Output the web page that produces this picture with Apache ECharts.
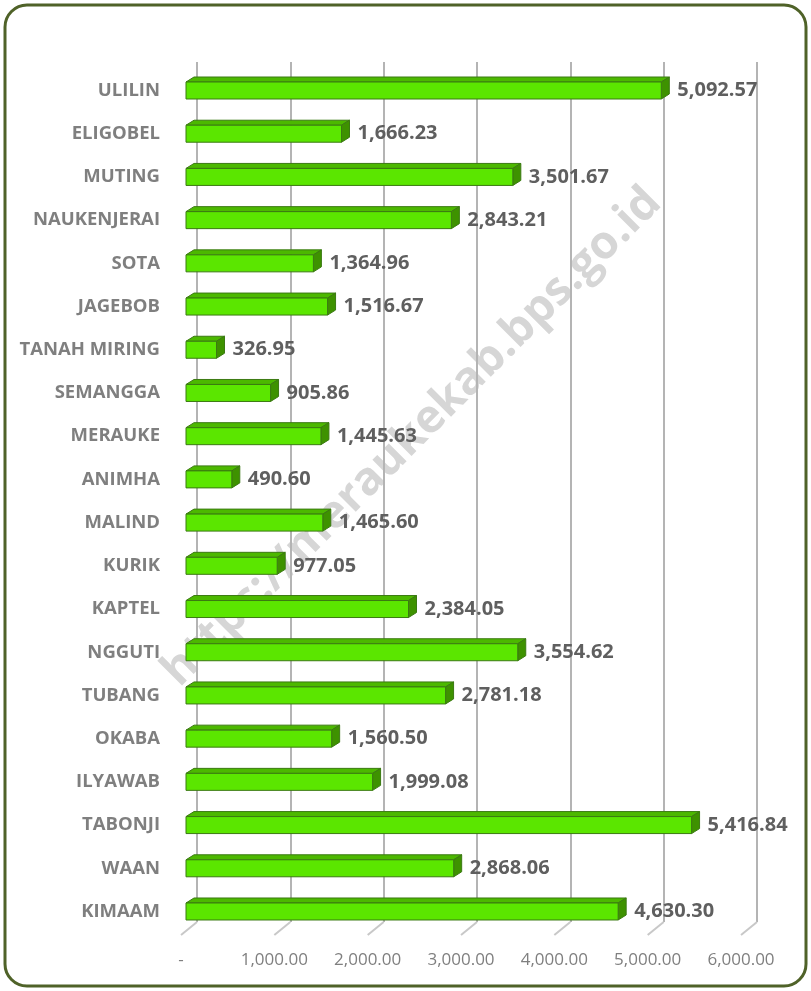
<!DOCTYPE html>
<html>
<head>
<meta charset="utf-8">
<script src="https://cdn.jsdelivr.net/npm/echarts@6/dist/echarts.min.js"></script>
<style>
html,body{margin:0;padding:0;background:#fff;}
#c{width:811px;height:991px;}
</style>
</head>
<body>
<div id="c"></div>
<script>
const categories = ['ULILIN','ELIGOBEL','MUTING','NAUKENJERAI','SOTA','JAGEBOB','TANAH MIRING','SEMANGGA','MERAUKE','ANIMHA','MALIND','KURIK','KAPTEL','NGGUTI','TUBANG','OKABA','ILYAWAB','TABONJI','WAAN','KIMAAM'];
const values = [5092.57,1666.23,3501.67,2843.21,1364.96,1516.67,326.95,905.86,1445.63,490.60,1465.60,977.05,2384.05,3554.62,2781.18,1560.50,1999.08,5416.84,2868.06,4630.30];
const ticks = [0,1000,2000,3000,4000,5000,6000];
const tickLabels = ['-','1,000.00','2,000.00','3,000.00','4,000.00','5,000.00','6,000.00'];
const watermarkText = 'https://meraukekab.bps.go.id';

function fmt(v){
  const p = v.toFixed(2).split('.');
  p[0] = p[0].replace(/\B(?=(\d{3})+(?!\d))/g, ',');
  return p.join('.');
}

const DX = 8, DY = 5;
const FONT = '"Open Sans", "DejaVu Sans", sans-serif';

const chart = echarts.init(document.getElementById('c'), null, {renderer:'canvas'});
chart.setOption({
  animation:false,
  backgroundColor:'#ffffff',
  graphic:[
    {type:'rect', z:-10, shape:{x:5,y:5,width:801,height:981,r:22}, style:{fill:'#ffffff', stroke:'#4f6228', lineWidth:3}},
    {type:'text', z:-5, x:412, y:437, rotation:Math.PI/4,
      style:{text:watermarkText, fill:'#d6d6d6', font:'bold 46px ' + FONT, align:'center', verticalAlign:'middle'}}
  ],
  grid:[
    {left:186, right:65, top:68.9, bottom:57.9, containLabel:false},
    {left:197, right:54, top:62, bottom:69, containLabel:false},
    {left:181, right:70, top:62, bottom:56, containLabel:false}
  ],
  xAxis:[
    {type:'value', gridIndex:0, min:0, max:6000, interval:1000, show:false},
    {type:'value', gridIndex:1, min:0, max:6000, interval:1000,
      axisLine:{show:false}, axisTick:{show:false}, axisLabel:{show:false},
      splitLine:{show:true, lineStyle:{color:'#b4b4b4', width:2}}},
    {type:'value', gridIndex:2, min:0, max:6000, interval:1000,
      axisLine:{show:false}, axisTick:{show:false}, splitLine:{show:false},
      axisLabel:{show:true, margin:17, color:'#7f7f7f', fontSize:17, fontFamily:FONT,
        formatter:function(v){ const i = ticks.indexOf(v); return i>=0 ? tickLabels[i] : ''; }}}
  ],
  yAxis:[
    {type:'category', gridIndex:0, data:categories, inverse:true,
      axisLine:{show:false}, axisTick:{show:false}, splitLine:{show:false},
      axisLabel:{margin:26, color:'#7f7f7f', fontSize:18.5, fontWeight:'bold', fontFamily:FONT}},
    {type:'value', gridIndex:1, min:0, max:1, show:false},
    {type:'value', gridIndex:2, min:0, max:1, show:false}
  ],
  series:[
    {
      type:'custom', xAxisIndex:1, yAxisIndex:1, z:1,
      data: ticks.map(t=>[t,0]),
      renderItem:function(params, api){
        const p = api.coord([api.value(0), 0]);
        return {type:'line', shape:{x1:p[0], y1:p[1], x2:p[0]-16, y2:p[1]+13},
          style:{stroke:'#c8c8c8', lineWidth:2}};
      }
    },
    {
      type:'custom', xAxisIndex:0, yAxisIndex:0, z:5,
      data: values.map((v,i)=>[v,i]),
      encode:{x:0, y:1},
      renderItem:function(params, api){
        const v = api.value(0);
        const i = api.value(1);
        const s = api.coord([0, i]);
        const e = api.coord([v, i]);
        const h = 17;
        const x0 = s[0], x1 = e[0];
        const y0 = s[1]-h/2, y1 = s[1]+h/2;
        const stroke = '#3b7a12';
        return {type:'group', children:[
          {type:'polygon', shape:{points:[[x0,y0],[x1,y0],[x1+DX,y0-DY],[x0+DX,y0-DY]]},
            style:{fill:'#4cb800', stroke:stroke, lineWidth:1}},
          {type:'polygon', shape:{points:[[x1,y0],[x1+DX,y0-DY],[x1+DX,y1-DY],[x1,y1]]},
            style:{fill:'#3e9200', stroke:stroke, lineWidth:1}},
          {type:'rect', shape:{x:x0, y:y0, width:x1-x0, height:h},
            style:{fill:'#5be600', stroke:stroke, lineWidth:1}},
          {type:'text', x:x1+DX+8, y:s[1],
            style:{text:fmt(v), fill:'#5f5f5f', font:'bold 20px ' + FONT, align:'left', verticalAlign:'middle'}}
        ]};
      }
    }
  ]
});
</script>
</body>
</html>
